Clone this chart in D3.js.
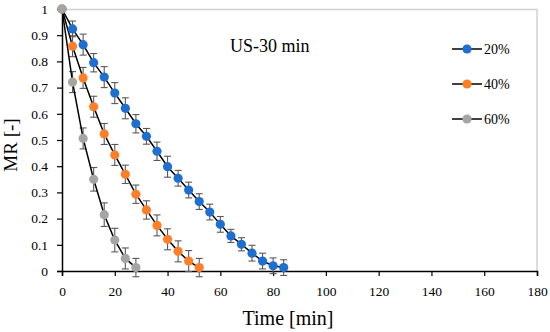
<!DOCTYPE html>
<html>
<head>
<meta charset="utf-8">
<script src="https://cdn.jsdelivr.net/npm/d3@7"></script>
<style>
  body { margin: 0; background: #fff; }
  text { font-family: "Liberation Serif", "DejaVu Serif", serif; fill: #000; }
</style>
</head>
<body>
<svg id="chart" width="550" height="332"></svg>
<script>
// chart data
var time20 = [0, 4, 8, 12, 16, 20, 24, 28, 32, 36, 40, 44, 48, 52, 56, 60, 64, 68, 72, 76, 80, 84];
var mr20 = [1, 0.924, 0.864, 0.795, 0.74, 0.679, 0.621, 0.562, 0.514, 0.457, 0.398, 0.354, 0.309, 0.265, 0.225, 0.178, 0.134, 0.102, 0.068, 0.038, 0.02, 0.013];
var err20 = [0, 0.03, 0.04, 0.035, 0.04, 0.04, 0.04, 0.035, 0.03, 0.035, 0.04, 0.03, 0.03, 0.03, 0.03, 0.03, 0.025, 0.025, 0.03, 0.03, 0.03, 0.03];

var time40 = [0, 4, 8, 12, 16, 20, 24, 28, 32, 36, 40, 44, 48, 52];
var mr40 = [1, 0.858, 0.737, 0.627, 0.523, 0.443, 0.369, 0.293, 0.233, 0.174, 0.121, 0.075, 0.038, 0.013];
var err40 = [0, 0.04, 0.04, 0.04, 0.04, 0.04, 0.035, 0.035, 0.035, 0.04, 0.04, 0.04, 0.04, 0.035];

var time60 = [0, 4, 8, 12, 16, 20, 24, 28];
var mr60 = [1, 0.721, 0.506, 0.35, 0.215, 0.118, 0.048, 0.013];
var err60 = [0, 0.04, 0.04, 0.045, 0.045, 0.045, 0.04, 0.035];

var seriesNames = ["20%", "40%", "60%"];
var seriesColors = ["#1f6fd0", "#fd7f2a", "#a5a5a5"];
var xTicks = [0, 20, 40, 60, 80, 100, 120, 140, 160, 180];
var yTicks = [0, 0.1, 0.2, 0.3, 0.4, 0.5, 0.6, 0.7, 0.8, 0.9, 1];

var series = [
  { name: seriesNames[0], color: seriesColors[0], t: time20, v: mr20, e: err20 },
  { name: seriesNames[1], color: seriesColors[1], t: time40, v: mr40, e: err40 },
  { name: seriesNames[2], color: seriesColors[2], t: time60, v: mr60, e: err60 }
];

var svg = d3.select("#chart"),
    margin = {top: 9, right: 13, bottom: 61, left: 62},
    width = +svg.attr("width") - margin.left - margin.right,
    height = +svg.attr("height") - margin.top - margin.bottom;

var x = d3.scaleLinear().domain([0, 180]).range([0, width]),
    y = d3.scaleLinear().domain([0, 1]).range([height, 0]);

var g = svg.append("g")
    .attr("transform", "translate(" + margin.left + "," + margin.top + ")");

// plot frame (top and right in light grey)
g.append("line").attr("x1", 0).attr("x2", width).attr("y1", 0.5).attr("y2", 0.5)
    .attr("stroke", "#d0d0d0").attr("stroke-width", 1.5);
g.append("line").attr("x1", width).attr("x2", width).attr("y1", 0).attr("y2", height)
    .attr("stroke", "#d0d0d0").attr("stroke-width", 1.5);

var xAxis = g.append("g")
    .attr("transform", "translate(0," + height + ")")
    .call(d3.axisBottom(x).tickValues(xTicks).tickSize(5).tickPadding(10));
xAxis.select(".domain").attr("stroke-width", 1.5);
xAxis.selectAll(".tick line").attr("stroke-width", 1.2);
xAxis.selectAll("text").style("font-size", "13.5px");

var yAxis = g.append("g")
    .call(d3.axisLeft(y).tickValues(yTicks).tickFormat(d3.format("")).tickSize(5).tickPadding(9));
yAxis.select(".domain").attr("stroke-width", 1.5);
yAxis.selectAll(".tick line").attr("stroke-width", 1.2);
yAxis.selectAll("text").style("font-size", "13.5px");

svg.append("text")
    .attr("x", 288)
    .attr("y", 325)
    .attr("text-anchor", "middle")
    .style("font-size", "20px")
    .text("Time [min]");

svg.append("text")
    .attr("transform", "translate(17,145) rotate(-90)")
    .attr("text-anchor", "middle")
    .style("font-size", "19px")
    .text("MR [-]");

svg.append("text")
    .attr("x", 230)
    .attr("y", 52)
    .style("font-size", "18px")
    .text("US-30 min");

var line = d3.line()
    .x(function(d) { return x(d[0]); })
    .y(function(d) { return y(d[1]); });

series.forEach(function(s) {
  var pts = s.t.map(function(t, i) { return [t, s.v[i], s.e[i]]; });

  // error bars
  var eb = g.append("g").attr("stroke", "#595959").attr("stroke-width", 1.1);
  pts.filter(function(d) { return d[2] > 0; }).forEach(function(d) {
    var cx = x(d[0]);
    eb.append("line").attr("x1", cx).attr("x2", cx)
        .attr("y1", y(d[1] + d[2])).attr("y2", y(d[1] - d[2]));
    eb.append("line").attr("x1", cx - 3.5).attr("x2", cx + 3.5)
        .attr("y1", y(d[1] + d[2])).attr("y2", y(d[1] + d[2]));
    eb.append("line").attr("x1", cx - 3.5).attr("x2", cx + 3.5)
        .attr("y1", y(d[1] - d[2])).attr("y2", y(d[1] - d[2]));
  });

  g.append("path")
      .datum(pts)
      .attr("fill", "none")
      .attr("stroke", "#000")
      .attr("stroke-width", 1.5)
      .attr("d", line);
});

series.forEach(function(s) {
  g.selectAll(null)
      .data(s.t.map(function(t, i) { return [t, s.v[i]]; }))
      .enter().append("circle")
      .attr("cx", function(d) { return x(d[0]); })
      .attr("cy", function(d) { return y(d[1]); })
      .attr("r", 4.6)
      .attr("fill", s.color);
});

// legend
var legend = svg.append("g");
series.forEach(function(s, i) {
  var ly = 49 + i * 35;
  legend.append("line").attr("x1", 452).attr("x2", 482).attr("y1", ly).attr("y2", ly)
      .attr("stroke", "#000").attr("stroke-width", 1.5);
  legend.append("circle").attr("cx", 467).attr("cy", ly).attr("r", 4.6).attr("fill", s.color);
  legend.append("text").attr("x", 484).attr("y", ly + 5)
      .style("font-size", "14px").text(s.name);
});
</script>
</body>
</html>
